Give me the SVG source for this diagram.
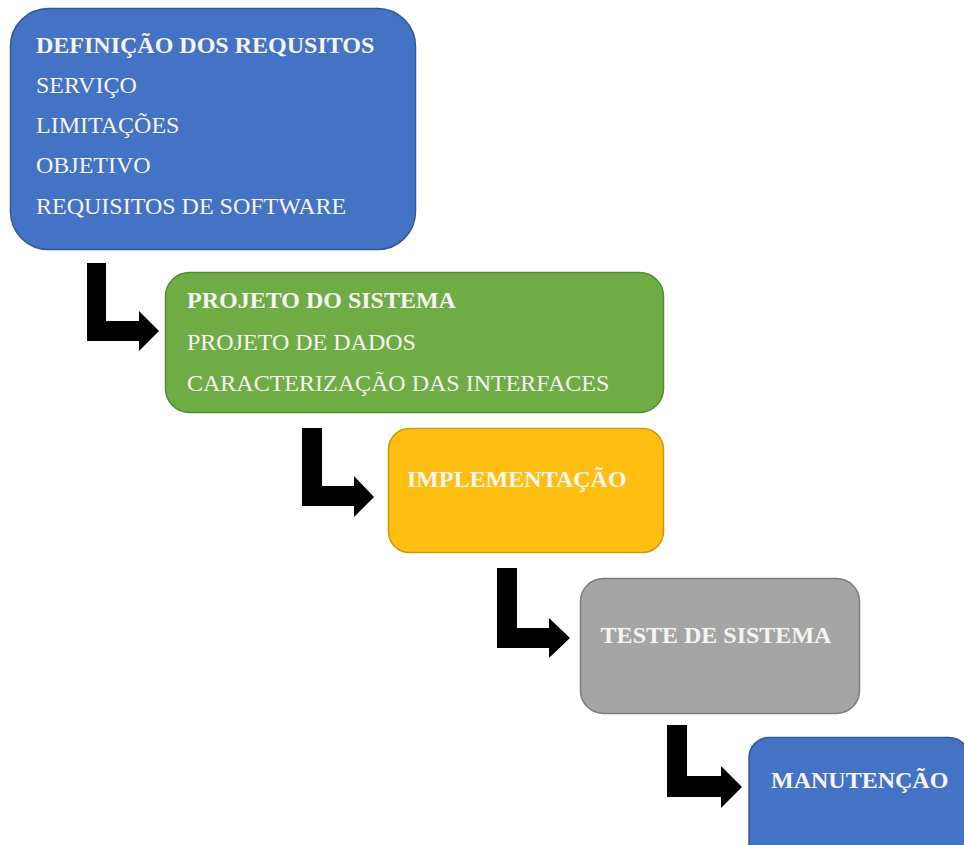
<svg xmlns="http://www.w3.org/2000/svg" width="964" height="845" viewBox="0 0 964 845">
<style>
.t{font-family:"Liberation Serif","Times New Roman",serif;font-size:24px;fill:#f4f4f0}
.b{font-weight:bold}
.arr{fill:#000}
.blue{fill:#4472C4;stroke:#35579a;stroke-width:1.5}
.green{fill:#6FAC46;stroke:#55893a;stroke-width:1.5}
.gold{fill:#FEBF10;stroke:#c99a10;stroke-width:1.5}
.grey{fill:#A5A5A5;stroke:#7c7c7c;stroke-width:1.5}
</style>
<rect width="964" height="845" fill="#fff"/>
<g id="connectors">
<polygon class="arr" points="87,263 106,263 106,321 139,321 139,311 159,331 139,351 139,341 87,341"/>
<polygon class="arr" points="302,428 322,428 322,486 354,486 354,476 374,497 354,517 354,506 302,506"/>
<polygon class="arr" points="497,568 517,568 517,628 549,628 549,618 570,638 549,658 549,648 497,648"/>
<polygon class="arr" points="667,725 687,725 687,776 721,776 721,766 742,787 721,808 721,797 667,797"/>
</g>
<g id="node1">
<rect class="blue" x="10.5" y="8.5" width="405" height="241" rx="38"/>
<text class="t b" x="36" y="53">DEFINIÇÃO DOS REQUSITOS</text>
<text class="t" x="36" y="93">SERVIÇO</text>
<text class="t" x="36" y="133">LIMITAÇÕES</text>
<text class="t" x="36" y="173">OBJETIVO</text>
<text class="t" x="36" y="214">REQUISITOS DE SOFTWARE</text>
</g>
<g id="node2">
<rect class="green" x="165.5" y="272.5" width="498" height="140" rx="24"/>
<text class="t b" x="187" y="308">PROJETO DO SISTEMA</text>
<text class="t" x="187" y="350">PROJETO DE DADOS</text>
<text class="t" x="187" y="391">CARACTERIZAÇÃO DAS INTERFACES</text>
</g>
<g id="node3">
<rect class="gold" x="388.5" y="428.5" width="275" height="124" rx="21"/>
<text class="t b" x="407" y="487">IMPLEMENTAÇÃO</text>
</g>
<g id="node4">
<rect class="grey" x="580.5" y="578.5" width="279" height="135" rx="23"/>
<text class="t b" x="716" y="643" text-anchor="middle">TESTE DE SISTEMA</text>
</g>
<g id="node5">
<rect class="blue" x="749" y="737.5" width="220" height="130" rx="20"/>
<text class="t b" x="771" y="788">MANUTENÇÃO</text>
</g>
</svg>
